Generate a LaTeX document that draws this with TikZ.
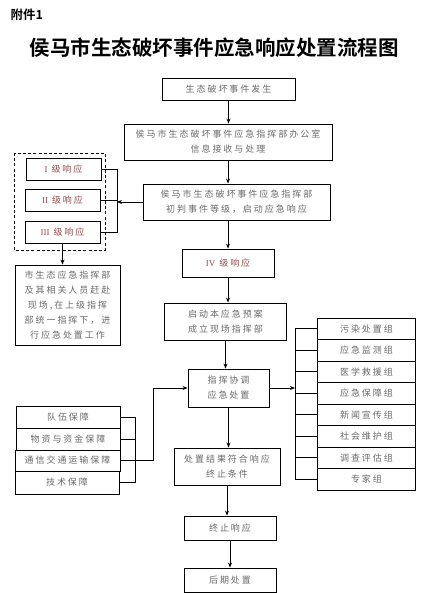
\documentclass[tikz,border=0pt]{standalone}
\usepackage{fontspec}
\usetikzlibrary{arrows.meta}
\newfontfamily\cjk{Noto Sans CJK SC}[LetterSpace=22,BoldFont={Noto Sans CJK SC Bold}]
\newfontfamily\cjkhead{Noto Sans CJK SC}[BoldFont={Noto Sans CJK SC Bold}]
\newfontfamily\latnum{Liberation Serif}
\definecolor{boxtext}{RGB}{105,105,105}
\definecolor{lvred}{RGB}{150,75,75}

\begin{document}
\begin{tikzpicture}[x=1pt,y=-1pt,line cap=butt,line join=miter,
  font=\cjk\fontsize{9}{15}\selectfont,
  stepbox/.style={draw=black,line width=0.9pt,inner sep=0pt,align=center,text=boxtext},
  lvbox/.style={stepbox,minimum width=75pt,minimum height=22pt,text=lvred},
  grpbox/.style={stepbox,minimum width=98pt,minimum height=21.5pt},
  arr/.style={-{Stealth[length=5pt,width=4pt]},line width=0.9pt},
  wire/.style={line width=0.9pt}]
\useasboundingbox (0,0) rectangle (424,593);
\node[font=\cjkhead\bfseries\fontsize{12.5}{12.5}\selectfont,anchor=west] (att) at (7,15) {附件1};
\node[font=\cjkhead\bfseries\fontsize{20.5}{20.5}\selectfont] (title) at (214,48) {侯马市生态破坏事件应急响应处置流程图};
\node[stepbox,minimum width=133pt,minimum height=22pt] (b1) at (228.5,89) {生态破坏事件发生};
\node[stepbox,minimum width=208pt,minimum height=36pt] (b2) at (228,142) {侯马市生态破坏事件应急指挥部办公室\\信息接收与处理};
\node[stepbox,minimum width=187pt,minimum height=36pt] (b3) at (236.5,202) {侯马市生态破坏事件应急指挥部\\初判事件等级，启动应急响应};
\node[lvbox] (lv1) at (63.5,169) {{\latnum I} 级响应};
\node[lvbox] (lv2) at (62.5,200) {{\latnum II} 级响应};
\node[lvbox] (lv3) at (62.5,232) {{\latnum III} 级响应};
\draw[line width=0.9pt,dash pattern=on 3pt off 2.2pt] (14,153) rectangle (105,250);
\coordinate (lvj) at (117,202);
\node[stepbox,minimum width=105pt,minimum height=80pt] (site) at (67.5,305) {市生态应急指挥部\\及其相关人员赶赴\\现场,在上级指挥\\部统一指挥下，进\\行应急处置工作};
\node[stepbox,minimum width=92pt,minimum height=28pt,text=lvred] (b4) at (228,263) {{\latnum IV} 级响应};
\node[stepbox,minimum width=122pt,minimum height=37pt] (b5) at (225.5,321.5) {启动本应急预案\\成立现场指挥部};
\node[stepbox,minimum width=81pt,minimum height=38pt] (b6) at (228.5,388) {指挥协调\\应急处置};
\node[stepbox,minimum width=106pt,minimum height=37pt] (b7) at (227,466.5) {处置结果符合响应\\终止条件};
\node[stepbox,minimum width=92pt,minimum height=24pt] (b8) at (230,528) {终止响应};
\node[stepbox,minimum width=92pt,minimum height=24pt] (b9) at (230,580) {后期处置};
\foreach \i/\txt in {1/污染处置组,2/应急监测组,3/医学救援组,4/应急保障组,5/新闻宣传组,6/社会维护组,7/调查评估组,8/专家组}
  \node[grpbox] (g\i) at (366.5,{307.25+21.5*\i}) {\txt};
\coordinate (gj) at (295,388);
\node[stepbox,minimum width=104pt,minimum height=22pt] (q1) at (68,417) {队伍保障};
\node[stepbox,minimum width=104pt,minimum height=22pt] (q2) at (68,439) {物资与资金保障};
\node[stepbox,minimum width=105pt,minimum height=21pt] (q3) at (67.5,460.5) {通信交通运输保障};
\node[stepbox,minimum width=104pt,minimum height=23pt] (q4) at (67,482.5) {技术保障};
\coordinate (qb) at (135,460.5);
\coordinate (qj) at (153,460.5);
\draw[arr] (b1.south) -- (b1.south |- b2.north);
\draw[arr] (b2.south) -- (b2.south |- b3.north);
\draw[arr] (b4.north |- b3.south) -- (b4.north);
\draw[arr] (b3.west) -- (lvj);
\draw[wire] (lv1.east) -- (lvj |- lv1.east) -- (lvj |- lv3.east) -- (lv3.east);
\draw[wire] (lv2.east) -- (lvj |- lv2.east);
\draw[arr] (lv3.south) -- (lv3.south |- site.north);
\draw[arr] (b4.south) -- (b4.south |- b5.north);
\draw[arr] (b5.south) -- (b5.south |- b6.north);
\draw[arr] (b6.south) -- (b6.south |- b7.north);
\draw[arr] (b7.south) -- (b7.south |- b8.north);
\draw[arr] (b8.south) -- (b8.south |- b9.north);
\draw[arr] (b6.east) -- (gj);
\draw[wire] (gj |- g1.west) -- (gj |- g8.west);
\foreach \i in {1,...,8}
  \draw[wire] (gj |- g\i.west) -- (g\i.west);
\draw[wire] (qb |- q1.east) -- (qb |- q4.east);
\foreach \i in {1,2,4}
  \draw[wire] (q\i.east) -- (qb |- q\i.east);
\draw[arr] (q3.east) -- (qj) |- (b6.west);
\end{tikzpicture}
\end{document}
